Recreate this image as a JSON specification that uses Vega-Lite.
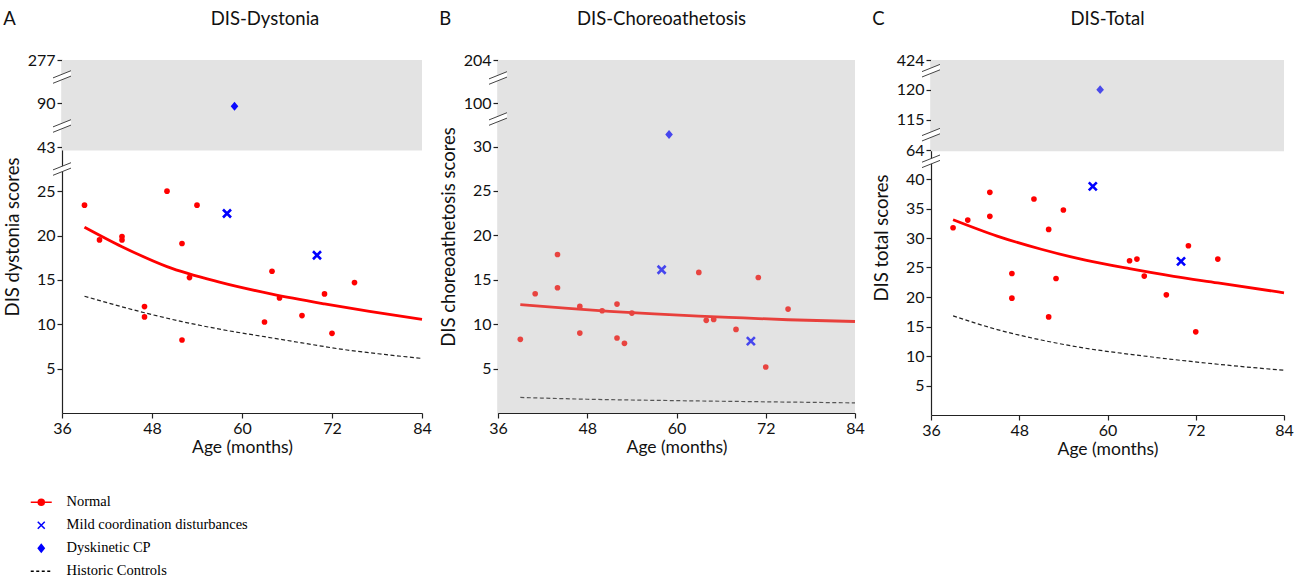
{
  "$schema": "https://vega.github.io/schema/vega-lite/v6.json",
  "background": "white",
  "padding": {"left": 3, "top": 9, "right": 5, "bottom": 0},
  "spacing": 7,
  "config": {
    "font": "Lato",
    "view": {"stroke": null},
    "axis": {"grid": false, "domainColor": "#222", "tickColor": "#222", "labelColor": "#111", "titleColor": "#111", "labelFont": "Lato", "titleFont": "Lato", "labelFontSize": 16, "titleFontSize": 17.5, "titleFontWeight": "normal", "tickSize": 5, "domainWidth": 1.2, "tickWidth": 1.2},
    "axisY": {"titleFontSize": 18.5, "titlePadding": 5},
    "title": {"font": "Lato", "fontSize": 18.5, "fontWeight": "normal", "color": "#111"}
  },
  "datasets": {
    "legend": [
      {"group": "Normal"},
      {"group": "Mild coordination disturbances"},
      {"group": "Dyskinetic CP"},
      {"group": "Historic Controls"}
    ],
    "dyst_pts": [
      {"age": 39, "value": 23.42, "group": "Normal"},
      {"age": 41, "value": 19.51, "group": "Normal"},
      {"age": 44, "value": 19.89, "group": "Normal"},
      {"age": 44, "value": 19.5, "group": "Normal"},
      {"age": 47, "value": 11.99, "group": "Normal"},
      {"age": 47, "value": 10.83, "group": "Normal"},
      {"age": 50, "value": 25.0, "group": "Normal"},
      {"age": 52, "value": 19.1, "group": "Normal"},
      {"age": 52, "value": 8.23, "group": "Normal"},
      {"age": 53, "value": 15.26, "group": "Normal"},
      {"age": 54, "value": 23.42, "group": "Normal"},
      {"age": 63, "value": 10.26, "group": "Normal"},
      {"age": 64, "value": 15.98, "group": "Normal"},
      {"age": 65, "value": 12.97, "group": "Normal"},
      {"age": 68, "value": 10.98, "group": "Normal"},
      {"age": 71, "value": 13.42, "group": "Normal"},
      {"age": 72, "value": 8.98, "group": "Normal"},
      {"age": 75, "value": 14.7, "group": "Normal"},
      {"age": 58, "value": 22.48, "group": "Mild coordination disturbances"},
      {"age": 70, "value": 17.78, "group": "Mild coordination disturbances"},
      {"age": 59, "value": 86.8, "group": "Dyskinetic CP"}
    ],
    "dyst_curves": [
      {"age": 39, "value": 20.95, "series": "Normal"},
      {"age": 44, "value": 18.75, "series": "Normal"},
      {"age": 50, "value": 16.5, "series": "Normal"},
      {"age": 57, "value": 14.75, "series": "Normal"},
      {"age": 64, "value": 13.4, "series": "Normal"},
      {"age": 71, "value": 12.3, "series": "Normal"},
      {"age": 77, "value": 11.45, "series": "Normal"},
      {"age": 84, "value": 10.55, "series": "Normal"},
      {"age": 39, "value": 13.16, "series": "Historic Controls"},
      {"age": 43, "value": 12.2, "series": "Historic Controls"},
      {"age": 47, "value": 11.3, "series": "Historic Controls"},
      {"age": 52, "value": 10.3, "series": "Historic Controls"},
      {"age": 58, "value": 9.3, "series": "Historic Controls"},
      {"age": 63, "value": 8.6, "series": "Historic Controls"},
      {"age": 68, "value": 7.9, "series": "Historic Controls"},
      {"age": 74, "value": 7.1, "series": "Historic Controls"},
      {"age": 79, "value": 6.6, "series": "Historic Controls"},
      {"age": 84, "value": 6.15, "series": "Historic Controls"}
    ],
    "dyst_gray": [{"age": 36, "age2": 84, "value": 40.6, "value2": 277}],
    "dyst_breaks": [{"age": 36, "value": 27.5}, {"age": 36, "value": 65.6}, {"age": 36, "value": 203.6}],
    "chor_pts": [
      {"age": 39, "value": 8.29, "group": "Normal"},
      {"age": 41, "value": 13.43, "group": "Normal"},
      {"age": 44, "value": 17.85, "group": "Normal"},
      {"age": 44, "value": 14.1, "group": "Normal"},
      {"age": 47, "value": 12.0, "group": "Normal"},
      {"age": 47, "value": 9.0, "group": "Normal"},
      {"age": 50, "value": 11.51, "group": "Normal"},
      {"age": 52, "value": 12.26, "group": "Normal"},
      {"age": 52, "value": 8.44, "group": "Normal"},
      {"age": 53, "value": 7.84, "group": "Normal"},
      {"age": 54, "value": 11.25, "group": "Normal"},
      {"age": 63, "value": 15.83, "group": "Normal"},
      {"age": 64, "value": 10.43, "group": "Normal"},
      {"age": 65, "value": 10.54, "group": "Normal"},
      {"age": 68, "value": 9.41, "group": "Normal"},
      {"age": 71, "value": 15.26, "group": "Normal"},
      {"age": 72, "value": 5.18, "group": "Normal"},
      {"age": 75, "value": 11.7, "group": "Normal"},
      {"age": 58, "value": 16.13, "group": "Mild coordination disturbances"},
      {"age": 70, "value": 8.1, "group": "Mild coordination disturbances"},
      {"age": 59, "value": 31.35, "group": "Dyskinetic CP"}
    ],
    "chor_curves": [
      {"age": 39, "value": 12.2, "series": "Normal"},
      {"age": 45, "value": 11.8, "series": "Normal"},
      {"age": 51, "value": 11.45, "series": "Normal"},
      {"age": 57, "value": 11.15, "series": "Normal"},
      {"age": 63, "value": 10.9, "series": "Normal"},
      {"age": 69, "value": 10.7, "series": "Normal"},
      {"age": 75, "value": 10.5, "series": "Normal"},
      {"age": 84, "value": 10.3, "series": "Normal"},
      {"age": 39, "value": 1.75, "series": "Historic Controls"},
      {"age": 48, "value": 1.55, "series": "Historic Controls"},
      {"age": 60, "value": 1.39, "series": "Historic Controls"},
      {"age": 72, "value": 1.26, "series": "Historic Controls"},
      {"age": 84, "value": 1.14, "series": "Historic Controls"}
    ],
    "chor_gray": [{"age": 36, "age2": 84, "value": 0, "value2": 204}],
    "chor_breaks": [{"age": 36, "value": 33.1}, {"age": 36, "value": 160.8}],
    "tot_pts": [
      {"age": 39, "value": 31.74, "group": "Normal"},
      {"age": 41, "value": 33.04, "group": "Normal"},
      {"age": 44, "value": 37.74, "group": "Normal"},
      {"age": 44, "value": 33.67, "group": "Normal"},
      {"age": 47, "value": 23.99, "group": "Normal"},
      {"age": 47, "value": 19.8, "group": "Normal"},
      {"age": 50, "value": 36.61, "group": "Normal"},
      {"age": 52, "value": 31.46, "group": "Normal"},
      {"age": 52, "value": 16.63, "group": "Normal"},
      {"age": 53, "value": 23.14, "group": "Normal"},
      {"age": 54, "value": 34.74, "group": "Normal"},
      {"age": 63, "value": 26.14, "group": "Normal"},
      {"age": 64, "value": 26.42, "group": "Normal"},
      {"age": 65, "value": 23.54, "group": "Normal"},
      {"age": 68, "value": 20.37, "group": "Normal"},
      {"age": 71, "value": 28.69, "group": "Normal"},
      {"age": 72, "value": 14.09, "group": "Normal"},
      {"age": 75, "value": 26.42, "group": "Normal"},
      {"age": 58, "value": 38.76, "group": "Mild coordination disturbances"},
      {"age": 70, "value": 26.03, "group": "Mild coordination disturbances"},
      {"age": 59, "value": 120.5, "group": "Dyskinetic CP"}
    ],
    "tot_curves": [
      {"age": 39, "value": 33.1, "series": "Normal"},
      {"age": 45, "value": 30.33, "series": "Normal"},
      {"age": 51, "value": 28.09, "series": "Normal"},
      {"age": 57, "value": 26.25, "series": "Normal"},
      {"age": 63, "value": 24.8, "series": "Normal"},
      {"age": 69, "value": 23.5, "series": "Normal"},
      {"age": 75, "value": 22.4, "series": "Normal"},
      {"age": 84, "value": 20.71, "series": "Normal"},
      {"age": 39, "value": 16.8, "series": "Historic Controls"},
      {"age": 45, "value": 14.48, "series": "Historic Controls"},
      {"age": 51, "value": 12.71, "series": "Historic Controls"},
      {"age": 57, "value": 11.32, "series": "Historic Controls"},
      {"age": 63, "value": 10.3, "series": "Historic Controls"},
      {"age": 69, "value": 9.4, "series": "Historic Controls"},
      {"age": 75, "value": 8.6, "series": "Historic Controls"},
      {"age": 84, "value": 7.58, "series": "Historic Controls"}
    ],
    "tot_gray": [{"age": 36, "age2": 84, "value": 61.6, "value2": 424}],
    "tot_breaks": [{"age": 36, "value": 43}, {"age": 36, "value": 89.8}, {"age": 36, "value": 314.5}]
  },
  "hconcat": [
    {
      "title": {"text": "A", "anchor": "start", "frame": "bounds", "offset": 0, "dy": 19},
      "vconcat": [
        {
          "title": {"text": "DIS-Dystonia", "anchor": "middle", "dx": 23, "offset": 24},
          "width": 360,
          "height": 353,
          "encoding": {
            "x": {"field": "age", "type": "quantitative", "scale": {"domain": [36, 84], "nice": false, "zero": false}, "axis": {"values": [36, 48, 60, 72, 84], "title": "Age (months)", "labelFlush": false, "titlePadding": 2}},
            "y": {"field": "value", "type": "quantitative", "scale": {"domain": [0, 27.5, 43, 90, 277], "range": [353, 109, 87, 43.3, 0], "nice": false, "zero": false}, "axis": {"values": [5, 10, 15, 20, 25, 43, 90, 277], "title": "DIS dystonia scores"}}
          },
          "layer": [
            {"data": {"name": "dyst_gray"}, "mark": {"type": "rect", "fill": "#e3e3e3"}, "encoding": {"x2": {"field": "age2"}, "y2": {"field": "value2"}}},
            {"data": {"name": "dyst_breaks"}, "mark": {"type": "point", "shape": "M-1,0.1L1,-0.7L1,-0.1L-1,0.7Z", "size": 324, "filled": true, "fill": "white", "strokeWidth": 0, "opacity": 1}},
            {"data": {"name": "dyst_breaks"}, "mark": {"type": "point", "shape": "M-1,0.1L1,-0.7M-1,0.7L1,-0.1", "size": 324, "filled": false, "stroke": "#444", "strokeWidth": 1, "opacity": 1}},
            {"data": {"name": "dyst_curves"}, "transform": [{"filter": "datum.series === 'Historic Controls'"}], "mark": {"type": "line", "interpolate": "monotone", "color": "#222", "strokeWidth": 1.2, "strokeDash": [4, 2.5]}},
            {"data": {"name": "dyst_curves"}, "transform": [{"filter": "datum.series === 'Normal'"}], "mark": {"type": "line", "interpolate": "monotone", "color": "#ff0000", "strokeWidth": 2.8}},
            {"data": {"name": "dyst_pts"}, "transform": [{"filter": "datum.group === 'Normal'"}], "mark": {"type": "point", "shape": "circle", "filled": true, "color": "#ff0000", "size": 32, "opacity": 1}},
            {"data": {"name": "dyst_pts"}, "transform": [{"filter": "datum.group === 'Mild coordination disturbances'"}], "mark": {"type": "point", "shape": "M-1,-1L1,1M1,-1L-1,1", "filled": false, "stroke": "#0000ff", "strokeWidth": 2.6, "size": 64, "opacity": 1}},
            {"data": {"name": "dyst_pts"}, "transform": [{"filter": "datum.group === 'Dyskinetic CP'"}], "mark": {"type": "point", "shape": "M0,-1L0.85,0L0,1L-0.85,0Z", "filled": true, "color": "#0a0aff", "size": 80, "opacity": 1}},
            {
              "data": {"name": "legend"},
              "mark": {"type": "point", "filled": true, "opacity": 0},
              "encoding": {
                "x": {"value": 0},
                "y": {"value": 0},
                "shape": {"field": "group", "type": "nominal", "scale": {"domain": ["Normal", "Mild coordination disturbances", "Dyskinetic CP", "Historic Controls"], "range": ["M-2.1,0L2.1,0M-0.6,0A0.6,0.6,0,1,1,0.6,0A0.6,0.6,0,1,1,-0.6,0Z", "M-0.7,-0.7L0.7,0.7M0.7,-0.7L-0.7,0.7", "M0,-0.75L0.6,0L0,0.75L-0.6,0Z", "M-2.1,0L-1.5,0M-1.0,0L-0.4,0M0.1,0L0.7,0M1.2,0L1.8,0"]},
                  "legend": {"title": null, "orient": "none", "legendX": -28, "legendY": 435, "symbolSize": 100, "labelFont": "Liberation Serif", "labelFontSize": 14.5, "labelColor": "#000", "labelOffset": 18, "labelLimit": 0, "rowPadding": 8, "symbolOpacity": 1, "encode": {"symbols": {"update": {"opacity": {"value": 1}, "strokeWidth": {"signal": "datum.value === 'Historic Controls' ? 1 : 2"}}}}}},
                "fill": {"field": "group", "type": "nominal", "scale": {"domain": ["Normal", "Mild coordination disturbances", "Dyskinetic CP", "Historic Controls"], "range": ["#ff0000", "#0000ff", "#0000ff", "#000000"]}},
                "stroke": {"field": "group", "type": "nominal", "scale": {"domain": ["Normal", "Mild coordination disturbances", "Dyskinetic CP", "Historic Controls"], "range": ["#ff0000", "#0000ff", "#0000ff", "#000000"]}}
              }
            }
          ]
        }
      ]
    },
    {
      "title": {"text": "B", "anchor": "start", "frame": "bounds", "offset": 0, "dy": 19},
      "vconcat": [
        {
          "title": {"text": "DIS-Choreoathetosis", "anchor": "middle", "dx": -15, "offset": 24},
          "width": 357,
          "height": 353,
          "encoding": {
            "x": {"field": "age", "type": "quantitative", "scale": {"domain": [36, 84], "nice": false, "zero": false}, "axis": {"values": [36, 48, 60, 72, 84], "title": "Age (months)", "labelFlush": false, "titlePadding": 2}},
            "y": {"field": "value", "type": "quantitative", "scale": {"domain": [0, 33.1, 100, 204], "range": [353, 59, 43.3, 0], "nice": false, "zero": false}, "axis": {"values": [5, 10, 15, 20, 25, 30, 100, 204], "title": "DIS choreoathetosis scores"}}
          },
          "layer": [
            {"data": {"name": "chor_gray"}, "mark": {"type": "rect", "fill": "#e3e3e3"}, "encoding": {"x2": {"field": "age2"}, "y2": {"field": "value2"}}},
            {"data": {"name": "chor_breaks"}, "mark": {"type": "point", "shape": "M-1,0.1L1,-0.7L1,-0.1L-1,0.7Z", "size": 324, "filled": true, "fill": "white", "strokeWidth": 0, "opacity": 1}},
            {"data": {"name": "chor_breaks"}, "mark": {"type": "point", "shape": "M-1,0.1L1,-0.7M-1,0.7L1,-0.1", "size": 324, "filled": false, "stroke": "#444", "strokeWidth": 1, "opacity": 1}},
            {"data": {"name": "chor_curves"}, "transform": [{"filter": "datum.series === 'Historic Controls'"}], "mark": {"type": "line", "interpolate": "monotone", "color": "#555", "strokeWidth": 1.2, "strokeDash": [4, 2.5]}},
            {"data": {"name": "chor_curves"}, "transform": [{"filter": "datum.series === 'Normal'"}], "mark": {"type": "line", "interpolate": "monotone", "color": "#e8403c", "strokeWidth": 2.8}},
            {"data": {"name": "chor_pts"}, "transform": [{"filter": "datum.group === 'Normal'"}], "mark": {"type": "point", "shape": "circle", "filled": true, "color": "#e84440", "size": 32, "opacity": 1}},
            {"data": {"name": "chor_pts"}, "transform": [{"filter": "datum.group === 'Mild coordination disturbances'"}], "mark": {"type": "point", "shape": "M-1,-1L1,1M1,-1L-1,1", "filled": false, "stroke": "#4646ee", "strokeWidth": 2.6, "size": 64, "opacity": 1}},
            {"data": {"name": "chor_pts"}, "transform": [{"filter": "datum.group === 'Dyskinetic CP'"}], "mark": {"type": "point", "shape": "M0,-1L0.85,0L0,1L-0.85,0Z", "filled": true, "color": "#4646ee", "size": 80, "opacity": 1}}
          ]
        }
      ]
    },
    {
      "title": {"text": "C", "anchor": "start", "frame": "bounds", "offset": 0, "dy": 19},
      "vconcat": [
        {
          "title": {"text": "DIS-Total", "anchor": "middle", "dx": 0, "offset": 24},
          "width": 353,
          "height": 355,
          "encoding": {
            "x": {"field": "age", "type": "quantitative", "scale": {"domain": [36, 84], "nice": false, "zero": false}, "axis": {"values": [36, 48, 60, 72, 84], "title": "Age (months)", "labelFlush": false, "titlePadding": 2}},
            "y": {"field": "value", "type": "quantitative", "scale": {"domain": [0, 43, 64, 115, 120, 424], "range": [355, 101.3, 90, 59.7, 29.7, 0], "nice": false, "zero": false}, "axis": {"values": [5, 10, 15, 20, 25, 30, 35, 40, 64, 115, 120, 424], "title": "DIS total scores"}}
          },
          "layer": [
            {"data": {"name": "tot_gray"}, "mark": {"type": "rect", "fill": "#e3e3e3"}, "encoding": {"x2": {"field": "age2"}, "y2": {"field": "value2"}}},
            {"data": {"name": "tot_breaks"}, "mark": {"type": "point", "shape": "M-1,0.1L1,-0.7L1,-0.1L-1,0.7Z", "size": 324, "filled": true, "fill": "white", "strokeWidth": 0, "opacity": 1}},
            {"data": {"name": "tot_breaks"}, "mark": {"type": "point", "shape": "M-1,0.1L1,-0.7M-1,0.7L1,-0.1", "size": 324, "filled": false, "stroke": "#444", "strokeWidth": 1, "opacity": 1}},
            {"data": {"name": "tot_curves"}, "transform": [{"filter": "datum.series === 'Historic Controls'"}], "mark": {"type": "line", "interpolate": "monotone", "color": "#222", "strokeWidth": 1.2, "strokeDash": [4, 2.5]}},
            {"data": {"name": "tot_curves"}, "transform": [{"filter": "datum.series === 'Normal'"}], "mark": {"type": "line", "interpolate": "monotone", "color": "#ff0000", "strokeWidth": 2.8}},
            {"data": {"name": "tot_pts"}, "transform": [{"filter": "datum.group === 'Normal'"}], "mark": {"type": "point", "shape": "circle", "filled": true, "color": "#ff0000", "size": 32, "opacity": 1}},
            {"data": {"name": "tot_pts"}, "transform": [{"filter": "datum.group === 'Mild coordination disturbances'"}], "mark": {"type": "point", "shape": "M-1,-1L1,1M1,-1L-1,1", "filled": false, "stroke": "#0000ff", "strokeWidth": 2.6, "size": 64, "opacity": 1}},
            {"data": {"name": "tot_pts"}, "transform": [{"filter": "datum.group === 'Dyskinetic CP'"}], "mark": {"type": "point", "shape": "M0,-1L0.85,0L0,1L-0.85,0Z", "filled": true, "color": "#4a4aea", "size": 80, "opacity": 1}}
          ]
        }
      ]
    }
  ]
}
